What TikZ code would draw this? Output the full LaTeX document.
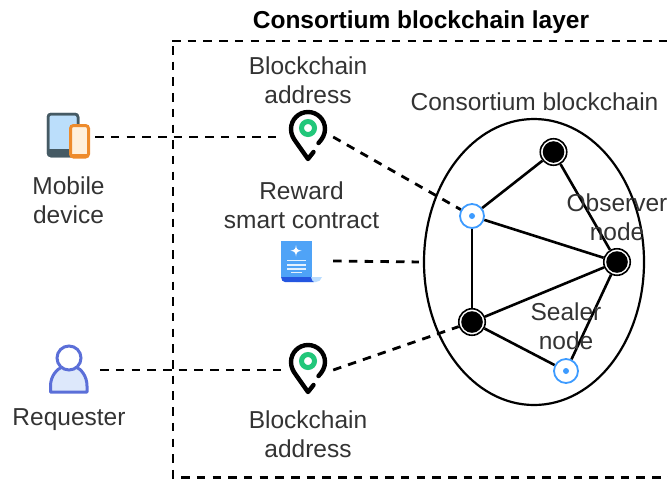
\documentclass[tikz,border=0pt]{standalone}
\usepackage{fontspec}
\setmainfont{Liberation Sans}
\usetikzlibrary{shapes.geometric}
\definecolor{txt}{HTML}{333333}
\definecolor{nodeblue}{HTML}{3D9BFF}
\definecolor{pingreen}{HTML}{22C77A}
\definecolor{tabedge}{HTML}{455A64}
\definecolor{tabfill}{HTML}{BBDEFB}
\definecolor{phoneedge}{HTML}{EE8B2C}
\definecolor{phonefill}{HTML}{FFF0DC}
\definecolor{personedge}{HTML}{5B6FD8}
\definecolor{personfill}{HTML}{DDE8FB}
\definecolor{docblue}{HTML}{4FA3F7}
\definecolor{docdark}{HTML}{2456E0}
\definecolor{doclight}{HTML}{BBDDFF}
\tikzset{
  x=1pt,y=-1pt,
  label text/.style={font=\fontsize{24.5}{29}\selectfont,text=txt,align=center,inner sep=0pt},
  title text/.style={font=\fontsize{24.5}{29}\selectfont\bfseries,text=black,inner sep=0pt},
  anchorbox/.style={inner sep=0pt,minimum width=#1,minimum height=40pt},
  link/.style={line width=2.6pt,draw=black},
  dashlink/.style={line width=2.8pt,draw=black,dash pattern=on 8.5pt off 7.2pt},
  sealer/.style={circle,inner sep=0pt,minimum size=26.5pt,fill=white,draw=black,line width=1.6pt,
    path picture={\fill[black] (path picture bounding box.center) circle[radius=10.8pt];}},
  observer/.style={circle,inner sep=0pt,minimum size=24pt,fill=white,draw=nodeblue,line width=1.8pt,
    path picture={\fill[nodeblue] (path picture bounding box.center) circle[radius=3pt];}},
  pinicon/.pic={
    \draw[line width=4.4pt,line cap=round,line join=round,black]
      (10.5,6) .. controls (14.5,2) and (17,-3) .. (17,-8)
      .. controls (17,-17.4) and (9.4,-25) .. (0,-25)
      .. controls (-9.4,-25) and (-17,-17.4) .. (-17,-8)
      .. controls (-17,-3) and (-15,1) .. (-12,5)
      -- (0,22) -- (5.5,15);
    \draw[line width=5pt,pingreen] (0,-9) circle[radius=6.5pt];
  }
}
\begin{document}
\begin{tikzpicture}
\useasboundingbox (0,0) rectangle (668,485);
% layer frame
\coordinate (frameTR) at (668,41);
\coordinate (frameTL) at (172,41);
\coordinate (frameLS) at (173,46);
\coordinate (frameBL) at (173,477.5);
\coordinate (frameBR) at (668,477.5);
\draw[dashlink] (frameTL) -- (frameTR);
\draw[dashlink] (frameLS) -- (frameBL) -- (frameBR);
% chain
\node[ellipse,draw=black,line width=2.2pt,minimum width=220pt,minimum height=286pt,inner sep=0pt] (chain) at (534,262) {};
\node[sealer] (n1) at (553.5,152) {};
\node[observer] (n2) at (472,216) {};
\node[sealer] (n3) at (617,262) {};
\node[sealer] (n4) at (472,322) {};
\node[observer] (n5) at (566,371) {};
\draw[link] (n2) -- (n1);
\draw[link] (n1) -- (n3);
\draw[link] (n2) -- (n3);
\draw[link] (n2) -- (n4);
\draw[link] (n4) -- (n3);
\draw[link] (n4) -- (n5);
\draw[link] (n3) -- (n5);
% icon anchors
\node[anchorbox=54pt] (mobile) at (68,137) {};
\node[anchorbox=64pt] (requester) at (68,370) {};
\node[anchorbox=50pt] (pinA) at (308,137) {};
\node[anchorbox=50pt] (pinB) at (308,370) {};
\node[anchorbox=52pt] (contract) at (307,261) {};
% connectors
\draw[dashlink] (mobile.east) -- (pinA.west);
\draw[dashlink] (requester.east) -- (pinB.west);
\draw[dashlink] (pinA.east) -- (n2);
\draw[dashlink] (pinB.east) -- (n4);
\draw[dashlink,shorten >=4pt] (contract.east) -- (chain.west);
% pins
\pic at (pinA) {pinicon};
\pic at (pinB) {pinicon};
% mobile icon
\draw[draw=tabedge,fill=tabfill,line width=2.5pt,rounded corners=3pt] (48,114) rectangle (78,156);
\fill[tabedge] (48,149) rectangle (78,156);
\draw[draw=tabedge,line width=2.5pt,rounded corners=3pt] (48,114) rectangle (78,156);
\draw[draw=phoneedge,fill=phonefill,line width=3pt,rounded corners=3pt] (70.5,125.5) rectangle (88.5,157);
\fill[phoneedge] (70.5,154) rectangle (88.5,157);
% requester icon
\draw[draw=personedge,fill=personfill,line width=3pt,line join=round]
  (50.5,392) -- (50.5,386) .. controls (50.5,376) and (57,369) .. (62,367)
  -- (76,367) .. controls (81,369) and (87,376) .. (87,386) -- (87,392) -- cycle;
\draw[draw=personedge,fill=white,line width=3pt] (69,358) circle[radius=12pt];
% contract icon
\fill[doclight] (296,277) -- (322,277) .. controls (321,280) and (319,282) .. (316,282) -- (296,282) -- cycle;
\fill[docdark] (281,277) -- (311,277) .. controls (311,280) and (313,282) .. (314,282) -- (285,282) .. controls (283,282) and (281,280) .. (281,277) -- cycle;
\fill[docblue] (281,241) rectangle (311.5,277);
\fill[white] (296,245) .. controls (296.6,249) and (297,250) .. (301.5,250.7)
  .. controls (297,251.4) and (296.6,252.4) .. (296,256.5)
  .. controls (295.4,252.4) and (295,251.4) .. (290.5,250.7)
  .. controls (295,250) and (295.4,249) .. (296,245) -- cycle;
\foreach \ly/\la/\lb in {260.7/287/306,265/287/306,269/287/306,272.7/291/302}
  \draw[white,line width=1.2pt,opacity=.85] (\la,\ly) -- (\lb,\ly);
% labels
\node[title text] (tTitle) at (421,22) {Consortium blockchain layer};
\node[label text] (tAddrA) at (308,80) {Blockchain\\address};
\node[label text] (tChain) at (534.5,102) {Consortium blockchain};
\node[label text] (tMobile) at (68.5,200) {Mobile\\device};
\node[label text] (tReward) at (301.5,205) {Reward\\smart contract};
\node[label text] (tObs) at (617,217) {Observer\\node};
\node[label text] (tSeal) at (566,326) {Sealer\\node};
\node[label text] (tReq) at (69,420) {Requester};
\node[label text] (tAddrB) at (308,434) {Blockchain\\address};
\end{tikzpicture}
\end{document}
